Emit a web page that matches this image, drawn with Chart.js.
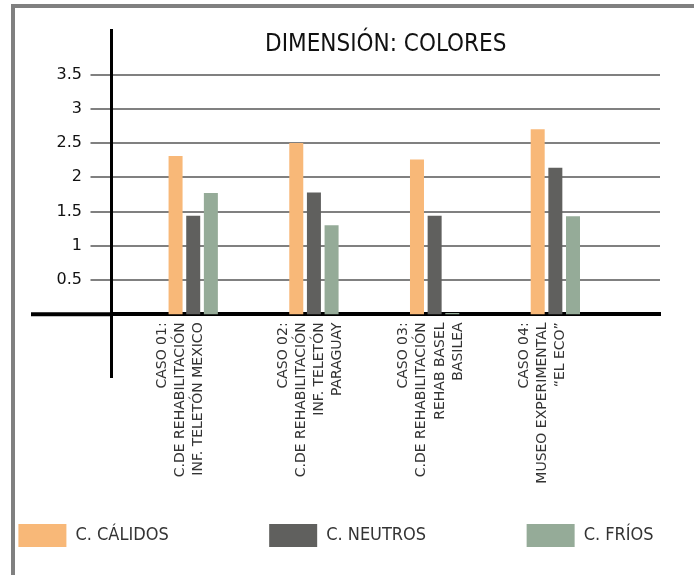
<!DOCTYPE html>
<html lang="es">
<head>
<meta charset="utf-8">
<title>Dimensión: Colores</title>
<script src="https://cdn.jsdelivr.net/npm/chart.js@4/dist/chart.umd.min.js"></script>
<style>
  html, body { margin: 0; padding: 0; background: #fff; overflow: hidden; }
  #wrap { position: relative; width: 694px; height: 575px; }
  #chart { position: absolute; left: 0; top: 0; }
  #frame {
    position: absolute; left: 11px; top: 4px; width: 720px; height: 620px;
    border-top: 4px solid #808080; border-left: 4px solid #808080;
    pointer-events: none;
  }
</style>
</head>
<body>
<div id="wrap">
  <canvas id="chart" width="694" height="575"></canvas>
  <div id="frame"></div>
</div>
<script>
// Case studies (one group of bars per case), each label split into lines
const categories = [
  ['CASO 01:', 'C.DE REHABILITACIÓN', 'INF. TELETÓN MEXICO'],
  ['CASO 02:', 'C.DE REHABILITACIÓN', 'INF. TELETÓN', 'PARAGUAY'],
  ['CASO 03:', 'C.DE REHABILITACIÓN', 'REHAB BASEL', 'BASILEA'],
  ['CASO 04:', 'MUSEO EXPERIMENTAL', '“EL ECO”']
];

// Series values
const calidos = [2.31, 2.5, 2.26, 2.7];
const neutros = [1.44, 1.78, 1.44, 2.14];
const frios   = [1.77, 1.3, 0.02, 1.43];

// Value axis ticks
const yTicks = [0.5, 1, 1.5, 2, 2.5, 3, 3.5];
const yTickLabels = ['0.5', '1', '1.5', '2', '2.5', '3', '3.5'];

const FONT = 'DejaVu Sans Condensed, DejaVu Sans, sans-serif';

const toPoints = vals => vals.map((v, i) => ({ x: i + 1, y: v }));

// Extends the baseline to the left of the value axis
const baselineExtension = {
  id: 'baselineExtension',
  afterDraw(chart) {
    const { ctx, chartArea } = chart;
    const y = chart.scales.y.getPixelForValue(0);
    ctx.save();
    ctx.strokeStyle = '#000';
    ctx.lineWidth = 4;
    ctx.beginPath();
    ctx.moveTo(31, y);
    ctx.lineTo(chartArea.left, y);
    ctx.stroke();
    ctx.restore();
  }
};

// Blank axes that only reserve room around the plot
const spacer = size => ({
  type: 'linear',
  display: true,
  grid: { display: false },
  border: { display: false },
  ticks: { display: false },
  afterFit: size
});

new Chart(document.getElementById('chart'), {
  type: 'bar',
  data: {
    datasets: [
      { label: 'C. CÁLIDOS', data: toPoints(calidos), backgroundColor: '#F8B878' },
      { label: 'C. NEUTROS', data: toPoints(neutros), backgroundColor: '#60605E' },
      { label: 'C. FRÍOS',   data: toPoints(frios),   backgroundColor: '#95AB98' }
    ]
  },
  options: {
    responsive: false,
    animation: false,
    categoryPercentage: 0.4387,
    barPercentage: 0.793,
    layout: { padding: { left: -100, right: -78, top: 0, bottom: 18 } },
    plugins: {
      title: {
        display: true,
        text: 'DIMENSIÓN: COLORES',
        fullSize: false,
        color: '#111',
        font: { family: FONT, size: 24, weight: 'normal', lineHeight: 1.2 },
        padding: { top: 30.6, bottom: -29.4 }
      },
      legend: {
        position: 'bottom',
        labels: {
          boxWidth: 48,
          boxHeight: 23,
          padding: 100.5,
          color: '#333',
          font: { family: FONT, size: 18 }
        }
      },
      tooltip: { enabled: false }
    },
    scales: {
      x: {
        type: 'linear',
        position: { y: 0 },
        min: 0.323,
        max: 4.867,
        offset: false,
        z: 1,
        grid: { display: true, offset: false, drawOnChartArea: false, drawTicks: false },
        border: { display: true, color: '#000', width: 4 },
        afterBuildTicks: s => { s.ticks = categories.map((_, i) => ({ value: i + 1 })); },
        ticks: {
          autoSkip: false,
          minRotation: 90,
          maxRotation: 90,
          padding: 8,
          labelOffset: -31,
          color: '#333',
          font: { family: 'DejaVu Sans, sans-serif', size: 14, lineHeight: 1.3 },
          callback: v => categories[Math.round(v) - 1] || ''
        }
      },
      y: {
        type: 'linear',
        position: 'left',
        min: -0.91,
        max: 4.15,
        afterBuildTicks: s => { s.ticks = yTicks.map(v => ({ value: v })); },
        afterFit: s => { s.width = 211.5; },
        grid: { color: '#808080', lineWidth: 2, tickLength: 21, tickColor: '#808080' },
        border: { display: true, color: '#000', width: 3 },
        ticks: {
          padding: 8.5,
          color: '#111',
          font: { family: 'DejaVu Sans, sans-serif', size: 16 },
          callback: v => yTickLabels[yTicks.indexOf(v)]
        }
      },
      rightGap: Object.assign(spacer(s => { s.width = 112; }), { position: 'right' }),
      bottomGap: Object.assign(spacer(s => { s.height = 46.8; }), { position: 'bottom' })
    }
  },
  plugins: [baselineExtension]
});
</script>
</body>
</html>
